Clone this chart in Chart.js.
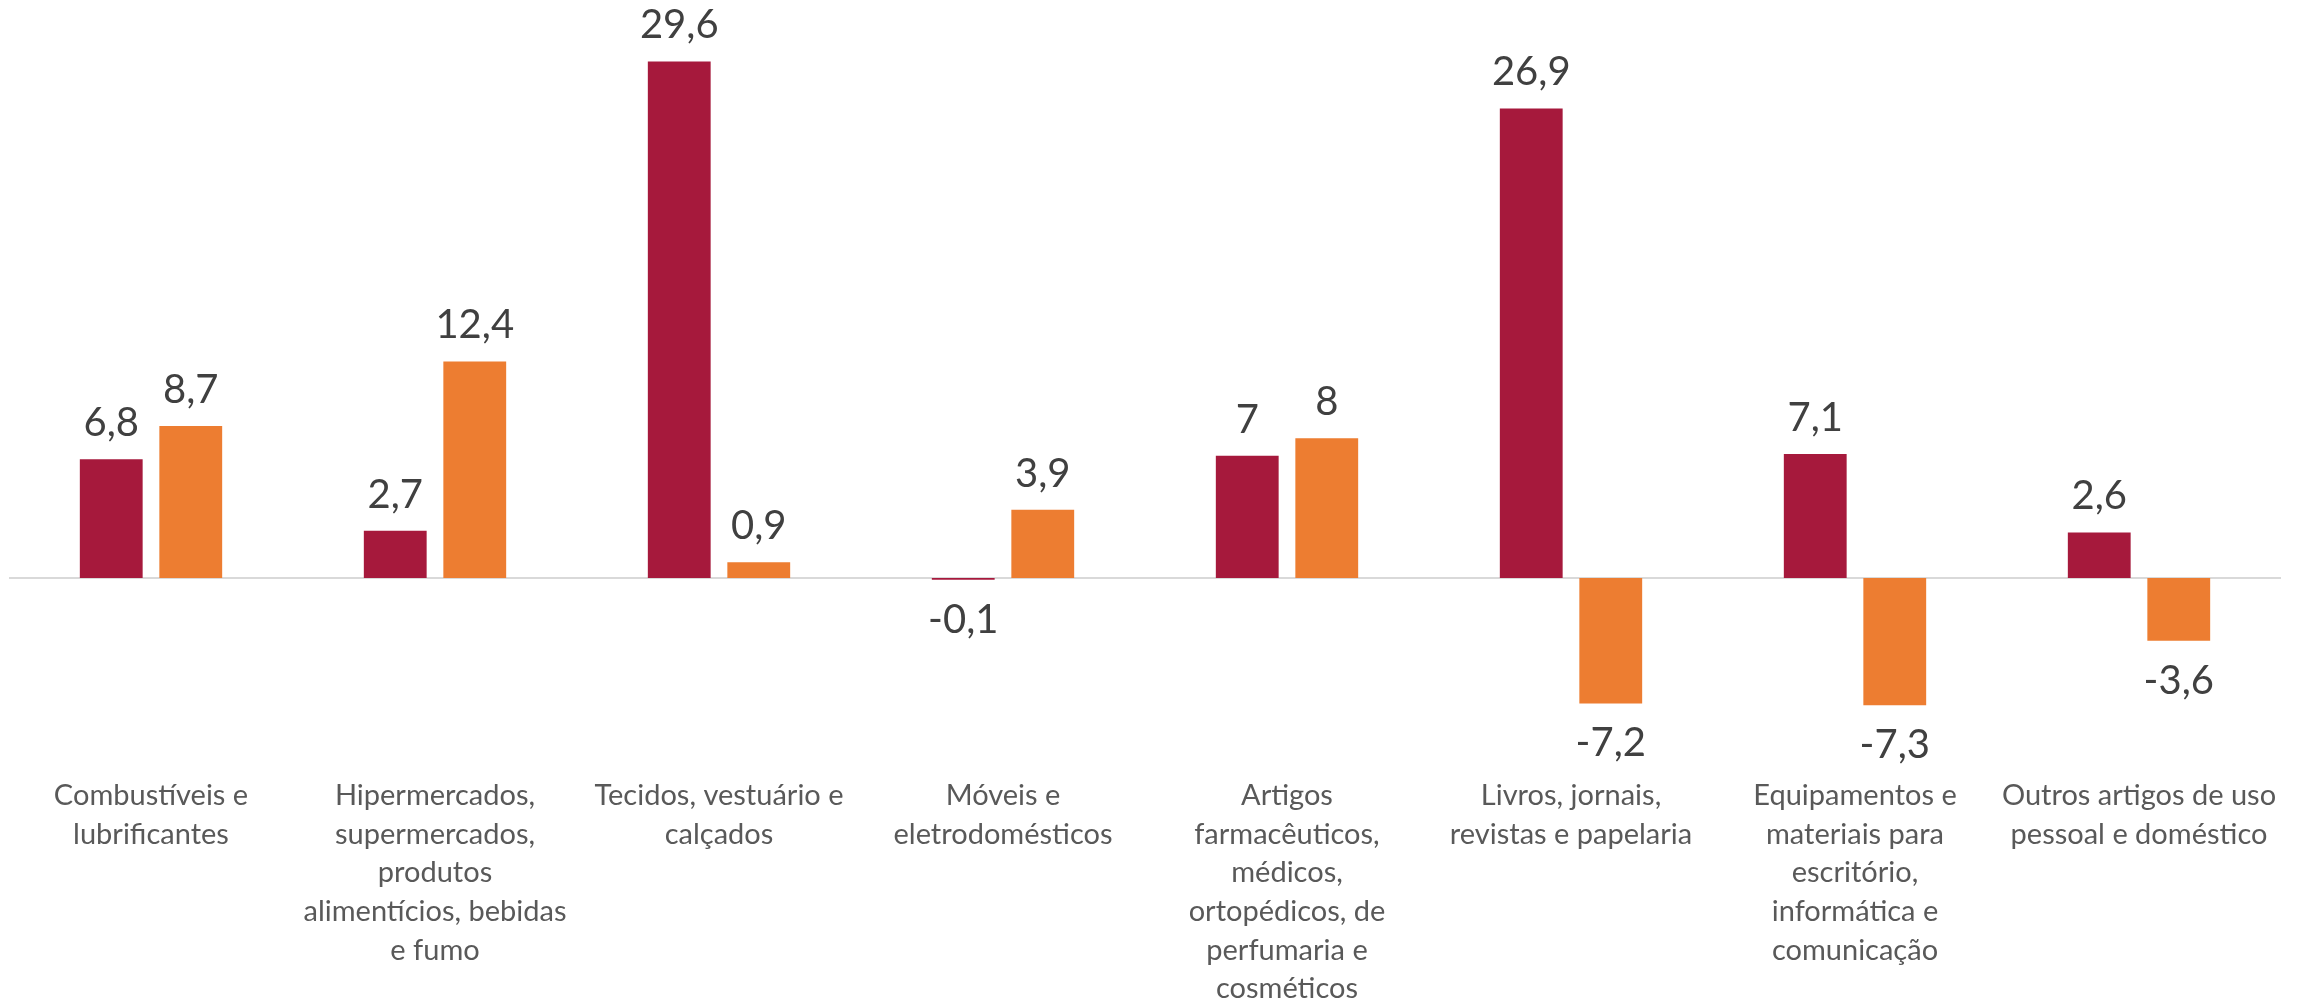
<!DOCTYPE html>
<html>
<head>
<meta charset="utf-8">
<script src="https://cdn.jsdelivr.net/npm/chart.js@4.4.1/dist/chart.umd.min.js"></script>
<style>
  html, body { margin: 0; padding: 0; background: #ffffff; }
  #wrap { width: 2305px; height: 1000px; }
</style>
</head>
<body>
<div id="wrap"><canvas id="c" width="2305" height="1000"></canvas></div>
<script>
const categories = [
  ["Combustíveis e", "lubrificantes"],
  ["Hipermercados,", "supermercados,", "produtos", "alimentícios, bebidas", "e fumo"],
  ["Tecidos, vestuário e", "calçados"],
  ["Móveis e", "eletrodomésticos"],
  ["Artigos", "farmacêuticos,", "médicos,", "ortopédicos, de", "perfumaria e", "cosméticos"],
  ["Livros, jornais,", "revistas e papelaria"],
  ["Equipamentos e", "materiais para", "escritório,", "informática e", "comunicação"],
  ["Outros artigos de uso", "pessoal e doméstico"]
];
const seriesA = [6.8, 2.7, 29.6, -0.1, 7, 26.9, 7.1, 2.6];
const seriesB = [8.7, 12.4, 0.9, 3.9, 8, -7.2, -7.3, -3.6];

const FONT = "Lato, 'Open Sans', sans-serif";

const valueLabels = {
  id: 'valueLabels',
  afterDatasetsDraw(chart) {
    const ctx = chart.ctx;
    ctx.save();
    ctx.font = "40px " + FONT;
    ctx.fillStyle = '#404040';
    ctx.textAlign = 'center';
    ctx.textBaseline = 'middle';
    chart.data.datasets.forEach((ds, di) => {
      const meta = chart.getDatasetMeta(di);
      meta.data.forEach((bar, i) => {
        const v = ds.data[i];
        const txt = String(v).replace('.', ',');
        const y = v >= 0 ? bar.y - 36 : bar.y + 40;
        ctx.fillText(txt, bar.x, y);
      });
    });
    ctx.restore();
  }
};

const zeroLine = {
  id: 'zeroLine',
  beforeDatasetsDraw(chart) {
    const ctx = chart.ctx;
    const y = Math.round(chart.scales.y.getPixelForValue(0));
    const a = chart.chartArea;
    ctx.save();
    ctx.strokeStyle = '#D9D9D9';
    ctx.lineWidth = 2;
    ctx.beginPath();
    ctx.moveTo(a.left, y);
    ctx.lineTo(a.right, y);
    ctx.stroke();
    ctx.restore();
  }
};

new Chart(document.getElementById('c'), {
  type: 'bar',
  data: {
    labels: categories,
    datasets: [
      { data: seriesA, backgroundColor: '#A6193C', barPercentage: 0.79, categoryPercentage: 0.56 },
      { data: seriesB, backgroundColor: '#ED7D31', barPercentage: 0.79, categoryPercentage: 0.56 }
    ]
  },
  options: {
    responsive: false,
    animation: false,
    devicePixelRatio: 1,
    layout: { padding: { top: 37, left: 9, right: 24, bottom: -12 } },
    plugins: { legend: { display: false }, tooltip: { enabled: false } },
    scales: {
      x: {
        grid: { display: false },
        border: { display: false },
        ticks: {
          color: '#595959',
          font: { family: FONT, size: 29, lineHeight: 1.33 },
          padding: 4,
          maxRotation: 0,
          autoSkip: false
        }
      },
      y: {
        display: false,
        min: -10.7,
        max: 31
      }
    }
  },
  plugins: [zeroLine, valueLabels]
});
</script>
</body>
</html>
